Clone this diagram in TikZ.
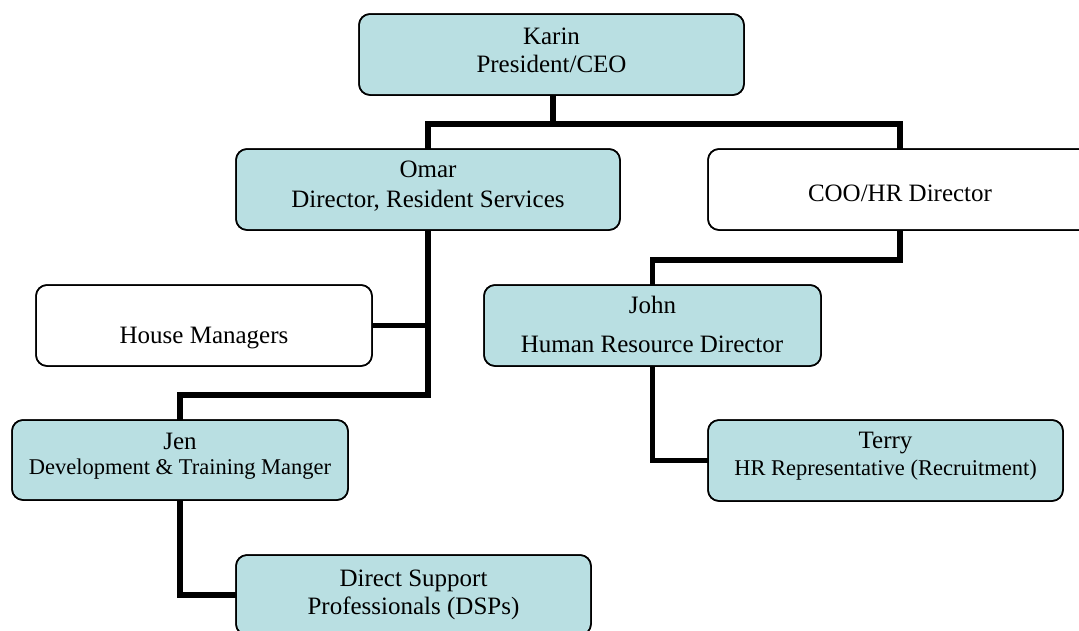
\documentclass[tikz,border=0pt]{standalone}
\usepackage{fontspec}
\setmainfont{Liberation Serif}
\definecolor{boxteal}{RGB}{185,223,226}
\begin{document}
\begin{tikzpicture}[x=1pt,y=-1pt,
  box/.style={draw=black, line width=1.5pt, rounded corners=11pt, inner sep=0pt, outer sep=0pt},
  tealbox/.style={box, fill=boxteal},
  whitebox/.style={box, fill=white},
  txt/.style={anchor=base, inner sep=0pt, font=\fontsize{25}{28}\selectfont},
  small/.style={anchor=base, inner sep=0pt, font=\fontsize{22.5}{26}\selectfont},
  conn/.style={line width=5.8pt, line join=miter, line cap=butt}]
\useasboundingbox (0,0) rectangle (1079,630);
\clip (0,0) rectangle (1079,630);
\fill[white] (0,0) rectangle (1079,630);

% boxes
\node[tealbox, minimum width=385pt, minimum height=81pt] (karin) at (551.5,54.5) {};
\node[tealbox, minimum width=384pt, minimum height=81pt] (omar) at (428,189.5) {};
\node[whitebox, minimum width=384pt, minimum height=81pt] (coo) at (900,189.5) {};
\node[whitebox, minimum width=336pt, minimum height=81pt] (house) at (204,325.5) {};
\node[tealbox, minimum width=337pt, minimum height=81pt] (john) at (652.5,325.5) {};
\node[tealbox, minimum width=336pt, minimum height=80pt] (jen) at (180,460) {};
\node[tealbox, minimum width=355pt, minimum height=81pt] (terry) at (885.5,460.5) {};
\node[tealbox, minimum width=355pt, minimum height=80pt] (dsp) at (413.5,595) {};

% texts
\node[txt] (karinA) at (551.5,44) {Karin};
\node[txt] (karinB) at (551.5,72) {President/CEO};
\node[txt] (omarA) at (428,177) {Omar};
\node[txt] (omarB) at (428,207) {Director, Resident Services};
\node[txt] (cooA) at (900,201) {COO/HR Director};
\node[txt] (houseA) at (204,343) {House Managers};
\node[txt] (johnA) at (652.5,313) {John};
\node[txt] (johnB) at (652,352) {Human Resource Director};
\node[txt] (jenA) at (180,449) {Jen};
\node[small] (jenB) at (180,474) {Development \& Training Manger};
\node[txt] (terryA) at (885.5,448) {Terry};
\node[small] (terryB) at (885.5,475) {HR Representative (Recruitment)};
\node[txt] (dspA) at (413.5,586) {Direct Support};
\node[txt] (dspB) at (413.5,614) {Professionals (DSPs)};

% connectors
\coordinate (j1) at (553,124);
\coordinate (j2) at (900,260);
\coordinate (j3) at (428,395);
\draw[conn] (omar.north) |- (j1) -| (coo.north);
\draw[conn] (karin.south -| j1) -- (j1);
\draw[conn] (coo.south) |- (j2) -| (john.north);
\draw[conn] (omar.south) -- (j3) -| (jen.north);
\draw[conn] (house.east) -- (house.east -| omar.south);
\draw[conn] (jen.south) |- (dsp.west);
\draw[conn] (john.south) |- (terry.west);

% redraw box outlines over connector ends
\foreach \n in {karin,omar,coo,house,john,jen,terry,dsp}{
  \draw[line width=1.5pt, rounded corners=11pt] (\n.south west) rectangle (\n.north east);
}
\end{tikzpicture}
\end{document}
